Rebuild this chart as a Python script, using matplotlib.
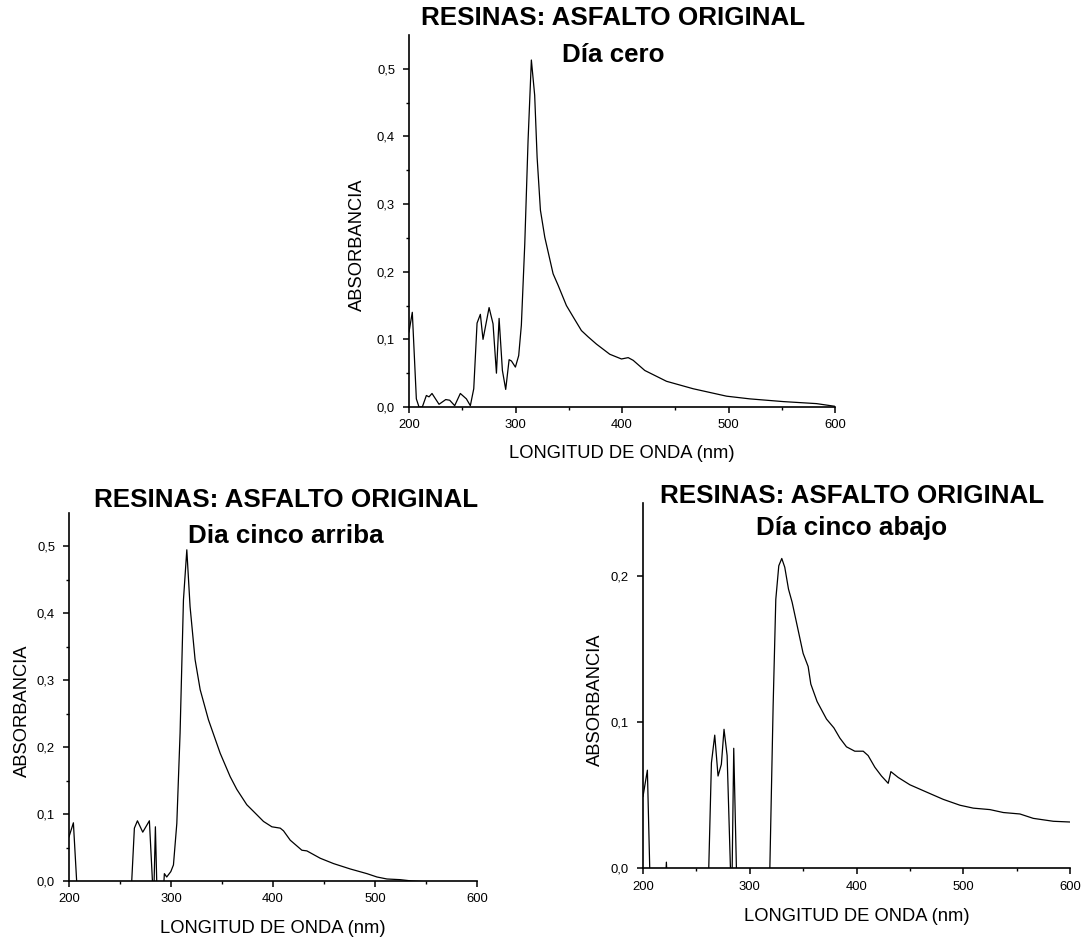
import numpy as np
import matplotlib.pyplot as plt

plt.rcParams['font.family'] = ['Liberation Sans', 'DejaVu Sans']

# Dia cero
wl_cero = [200, 203.1, 206.9, 209.4, 212.5, 216.3, 218.8, 221.6, 228.2, 234.5,
           238.2, 242.9, 248.2, 253.9, 257.6, 260.8, 263.9, 267.0, 269.5, 275.2,
           278.9, 282.1, 284.6, 287.7, 290.8, 294.0, 296.2, 299.9, 303.0, 305.5,
           308.7, 311.8, 314.9, 318.0, 320.3, 323.4, 327.5, 335.3, 340, 347.8,
           355, 361.9, 368, 376.0, 388.5, 399.5, 405.8, 410.5, 421.4, 441.8,
           466.8, 498.2, 520.1, 551.4, 582.7, 600]
abs_cero = [0.111, 0.140, 0.012, 0.0, 0.0, 0.017, 0.015, 0.020, 0.004, 0.011,
            0.010, 0.002, 0.020, 0.012, 0.002, 0.027, 0.124, 0.137, 0.100, 0.147,
            0.123, 0.050, 0.131, 0.054, 0.026, 0.070, 0.068, 0.059, 0.076, 0.121,
            0.241, 0.394, 0.513, 0.461, 0.369, 0.291, 0.251, 0.197, 0.180, 0.150,
            0.131, 0.113, 0.104, 0.093, 0.078, 0.071, 0.073, 0.069, 0.054, 0.038,
            0.027, 0.016, 0.012, 0.008, 0.005, 0.001]

# Dia cinco arriba
wl_arriba = [200, 204.3, 207.5, 209, 260, 261.5, 264.1, 267.1, 272.3, 278.8,
             281.8, 283, 284.7, 286.0, 288, 292, 293.5, 295.8, 299.8, 302.4,
             305.7, 308.9, 312.2, 315.5, 318.7, 323.6, 328.6, 336.7, 348.2, 358.0,
             364.5, 374.3, 380.9, 390.7, 398.9, 407.1, 410.3, 416.9, 428.3, 433.2,
             446.3, 459.4, 475.7, 492.1, 501.9, 511.7, 524.8, 536.3, 560, 600]
abs_arriba = [0.066, 0.087, 0.0, -0.03, -0.03, 0.0, 0.079, 0.090, 0.073, 0.090,
              0.0, -0.03, 0.081, 0.0, -0.03, -0.03, 0.011, 0.006, 0.014, 0.024,
              0.086, 0.221, 0.420, 0.495, 0.410, 0.331, 0.286, 0.241, 0.191, 0.156,
              0.137, 0.114, 0.104, 0.089, 0.081, 0.079, 0.075, 0.061, 0.046, 0.045,
              0.034, 0.026, 0.018, 0.011, 0.006, 0.003, 0.002, 0.0, -0.002, -0.003]

# Dia cinco abajo
wl_abajo = [200, 204.1, 206.3, 207, 220, 221.9, 224, 261, 261.6, 264.1,
            267.2, 270.3, 273.4, 275.9, 278.8, 281.9, 283, 285.0, 287.5, 289,
            318, 321.9, 324.4, 327.2, 330.0, 332.8, 336.3, 339.7, 345.3, 350.0,
            354.7, 357.2, 363.1, 371.9, 378.8, 384.4, 390.6, 398.4, 406.3, 410.9,
            417.2, 423.4, 429.7, 432.2, 439.1, 450.0, 465.6, 481.3, 496.9, 509.4,
            525.0, 537.5, 553.1, 565.6, 584.4, 600]
abs_abajo = [0.049, 0.067, 0.0, -0.03, -0.03, 0.004, -0.03, -0.03, 0.0, 0.072,
             0.091, 0.063, 0.071, 0.095, 0.077, 0.0, -0.03, 0.082, 0.0, -0.03,
             -0.03, 0.111, 0.184, 0.207, 0.212, 0.206, 0.191, 0.182, 0.163, 0.147,
             0.138, 0.126, 0.114, 0.102, 0.096, 0.089, 0.083, 0.080, 0.080, 0.077,
             0.069, 0.063, 0.058, 0.066, 0.062, 0.057, 0.052, 0.047, 0.043, 0.041,
             0.040, 0.038, 0.037, 0.034, 0.032, 0.0315]

x_ticks = [200, 300, 400, 500, 600]
y_ticks_big = [0.0, 0.1, 0.2, 0.3, 0.4, 0.5]
y_labels_big = ['0,0', '0,1', '0,2', '0,3', '0,4', '0,5']
y_ticks_small = [0.0, 0.1, 0.2]
y_labels_small = ['0,0', '0,1', '0,2']

W, H = 1084, 941
fig = plt.figure(figsize=(W / 100, H / 100), dpi=100)


def make_axes(left, top, right, bottom):
    return fig.add_axes([left / W, 1 - bottom / H, (right - left) / W, (bottom - top) / H])


def style(ax, ymax, yt, yl, yminor, lab_y, lab_x):
    ax.set_xlim(200, 600)
    ax.set_ylim(0, ymax)
    ax.set_xticks(x_ticks)
    ax.set_xticklabels([str(v) for v in x_ticks])
    ax.set_xticks(np.arange(250, 600, 100), minor=True)
    ax.set_yticks(yt)
    ax.set_yticklabels(yl)
    if yminor:
        ax.set_yticks(np.arange(0.05, ymax, 0.1), minor=True)
    for s in ['top', 'right']:
        ax.spines[s].set_visible(False)
    for s in ['left', 'bottom']:
        ax.spines[s].set_linewidth(1.2)
    ax.tick_params(which='major', direction='out', length=4.5, width=1.1, labelsize=9.4)
    ax.tick_params(which='minor', direction='out', length=2.5, width=1.0)
    ax.tick_params(axis='x', pad=4.5)
    ax.tick_params(axis='y', pad=5.5)
    ax.set_xlabel('LONGITUD DE ONDA (nm)', fontsize=13.2, va='center')
    ax.xaxis.set_label_coords(0.5, lab_x)
    ax.set_ylabel('ABSORBANCIA', fontsize=13.2, va='center')
    ax.yaxis.set_label_coords(lab_y[0], lab_y[1])


ax1 = make_axes(409, 35, 835, 407)
ax1.plot(wl_cero, abs_cero, color='black', lw=0.9)
style(ax1, 0.55, y_ticks_big, y_labels_big, True, (-0.120, 0.437), -0.126)

ax2 = make_axes(69, 513, 477, 881)
ax2.plot(wl_arriba, abs_arriba, color='black', lw=0.9)
style(ax2, 0.55, y_ticks_big, y_labels_big, True, (-0.115, 0.462), -0.128)

ax3 = make_axes(643, 503, 1070, 868)
ax3.plot(wl_abajo, abs_abajo, color='black', lw=0.9)
style(ax3, 0.25, y_ticks_small, y_labels_small, False, (-0.112, 0.46), -0.134)


def title(x, y, s):
    fig.text(x / W, 1 - y / H, s, ha='center', va='baseline',
             fontsize=18.7, fontweight='bold')


title(613, 25, 'RESINAS: ASFALTO ORIGINAL')
title(613, 62, 'Día cero')
title(286, 507, 'RESINAS: ASFALTO ORIGINAL')
title(286, 543, 'Dia cinco arriba')
title(852, 503, 'RESINAS: ASFALTO ORIGINAL')
title(852, 535, 'Día cinco abajo')

fig.savefig('out.png', dpi=100)
